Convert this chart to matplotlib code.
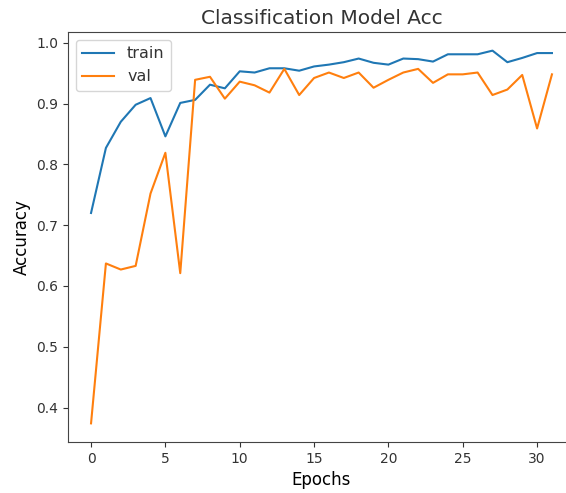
import numpy as np
import matplotlib
matplotlib.use("Agg")
import matplotlib.pyplot as plt

# accuracy per epoch
train_acc = [0.720, 0.827, 0.870, 0.898, 0.909, 0.846, 0.901, 0.906, 0.931, 0.925,
             0.953, 0.951, 0.958, 0.958, 0.954, 0.961, 0.964, 0.968, 0.974, 0.967,
             0.964, 0.974, 0.973, 0.969, 0.981, 0.981, 0.981, 0.987, 0.968, 0.975,
             0.983, 0.983]
val_acc = [0.374, 0.637, 0.627, 0.633, 0.752, 0.819, 0.621, 0.939, 0.944, 0.908,
           0.936, 0.930, 0.918, 0.957, 0.914, 0.942, 0.951, 0.942, 0.951, 0.926,
           0.939, 0.951, 0.957, 0.934, 0.948, 0.948, 0.951, 0.914, 0.923, 0.947,
           0.859, 0.948]
epochs = np.arange(len(train_acc))

plt.rcParams['text.color'] = '#333333'
plt.rcParams['xtick.color'] = '#333333'
plt.rcParams['ytick.color'] = '#333333'
plt.rcParams['axes.edgecolor'] = '#444444'

fig = plt.figure(figsize=(5.66, 4.93), dpi=100)
# the reference is a cropped screenshot: right side of the axes runs off the image
ax = fig.add_axes([68 / 566, 51 / 493, 507 / 566, 410 / 493])
ax.plot(epochs, train_acc, label="train")
ax.plot(epochs, val_acc, label="val")
ax.spines['right'].set_visible(False)
ax.set_title("Classification Model Acc", fontsize=14.5)
ax.set_xlabel("Epochs", fontsize=12)
ax.set_ylabel("Accuracy", fontsize=12)
ax.legend(loc="upper left", fontsize=11.5)

fig.savefig("out.png", dpi=100)
